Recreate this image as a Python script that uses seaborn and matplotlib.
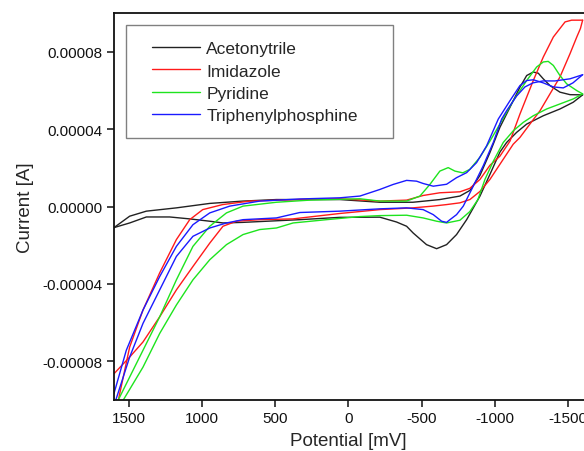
import numpy as np
import pandas as pd
import matplotlib
matplotlib.use('Agg')
import matplotlib.pyplot as plt
from matplotlib.patches import Rectangle
from matplotlib.ticker import FormatStrFormatter
import seaborn as sns

# cyclic voltammograms, potential in mV, current in 1e-5 A
solvents = ['Acetonytrile', 'Imidazole', 'Pyridine', 'Triphenylphosphine']
colors = ['#222222', '#ff1a1a', '#1ee41e', '#1a1aff']

acn_fwd_mv = [1600, 1493, 1379, 1174, 946, 721, 491, 58, -215, -441, -625, -762, -830, -899, -967,
              -1035, -1104, -1172, -1218, -1263, -1297, -1331, -1377, -1445, -1514, -1600]
acn_fwd_i = [-1.09, -0.50, -0.24, -0.07, 0.16, 0.28, 0.36, 0.36, 0.22, 0.22, 0.36, 0.54, 0.83, 1.61, 2.79,
             4.09, 5.13, 6.17, 6.77, 6.95, 6.89, 6.60, 6.25, 5.91, 5.78, 5.77]
acn_rev_mv = [-1600, -1536, -1445, -1331, -1218, -1149, -1081, -1035, -967, -899, -808, -739, -671, -603,
              -534, -443, -398, -329, -215, 58, 331, 721, 856, 946, 1083, 1220, 1379, 1493, 1600]
acn_rev_i = [5.77, 5.39, 5.04, 4.69, 4.26, 3.83, 3.31, 2.81, 1.66, 0.54, -0.68, -1.45, -1.97, -2.18,
             -1.97, -1.37, -1.02, -0.80, -0.55, -0.56, -0.68, -0.82, -0.85, -0.76, -0.64, -0.54, -0.54, -0.85, -1.09]

imi_fwd_mv = [1600, 1493, 1402, 1288, 1174, 1083, 994, 858, 673, 331, 58, -215, -398, -511, -625, -762,
              -830, -899, -967, -1035, -1104, -1172, -1263, -1331, -1400, -1480, -1525, -1600]
imi_fwd_i = [-11.06, -7.26, -5.35, -3.43, -1.71, -0.68, -0.16, 0.10, 0.28, 0.36, 0.40, 0.28, 0.33, 0.57, 0.71, 0.76,
             0.94, 1.40, 2.13, 2.60, 3.38, 4.78, 6.51, 7.72, 8.76, 9.54, 9.63, 9.63]
imi_rev_mv = [-1600, -1585, -1560, -1514, -1445, -1377, -1309, -1240, -1172, -1126, -1035, -967, -899, -830,
              -762, -671, -577, -441, -215, 58, 379, 605, 764, 856, 946, 1061, 1174, 1288, 1402, 1493, 1600]
imi_rev_i = [9.63, 9.20, 8.76, 7.90, 6.69, 5.82, 4.95, 4.26, 3.57, 3.22, 2.18, 1.40, 0.78, 0.36,
             0.19, 0.10, 0.02, -0.07, -0.16, -0.36, -0.64, -0.68, -0.76, -1.02, -1.89, -3.10, -4.31, -5.70, -7.00, -7.78, -8.64]

pyr_fwd_mv = [1600, 1573, 1402, 1288, 1174, 1061, 946, 832, 719, 491, 263, -79, -215, -398, -489, -557,
              -625, -682, -728, -782, -830, -899, -967, -1035, -1126, -1218, -1286, -1331, -1365, -1400,
              -1445, -1491, -1560, -1600]
pyr_fwd_i = [-10.47, -10.03, -7.43, -5.70, -3.79, -2.06, -1.02, -0.33, 0.02, 0.22, 0.33, 0.40, 0.28, 0.28, 0.54, 1.14,
             1.83, 2.01, 1.83, 1.74, 1.92, 2.55, 3.38, 4.26, 5.47, 6.51, 7.21, 7.47, 7.50, 7.29,
             6.77, 6.34, 5.99, 5.82]
pyr_rev_mv = [-1600, -1536, -1445, -1354, -1263, -1195, -1126, -1058, -990, -933, -885, -830, -762, -671,
              -603, -511, -398, -215, -79, 149, 377, 491, 605, 719, 832, 946, 1061, 1174, 1288, 1402, 1539, 1600]
pyr_rev_i = [5.82, 5.56, 5.30, 5.04, 4.69, 4.35, 3.91, 3.31, 2.34, 1.40, 0.36, -0.26, -0.71, -0.85,
             -0.76, -0.59, -0.45, -0.47, -0.52, -0.68, -0.85, -1.11, -1.19, -1.45, -1.97, -2.75, -3.79, -5.09,
             -6.56, -8.30, -10.03, -10.83]

tpp_fwd_mv = [1600, 1516, 1402, 1288, 1174, 1061, 946, 810, 605, 331, 58, -79, -215, -306, -398, -466,
              -511, -580, -671, -739, -808, -876, -944, -1024, -1104, -1172, -1218, -1263, -1331, -1400,
              -1468, -1534, -1600]
tpp_fwd_i = [-9.66, -7.43, -5.35, -3.62, -2.06, -0.94, -0.33, 0.02, 0.28, 0.39, 0.45, 0.54, 0.88, 1.14, 1.35, 1.31,
             1.19, 1.05, 1.15, 1.49, 1.75, 2.27, 3.13, 4.52, 5.47, 6.25, 6.51, 6.55, 6.39, 6.18,
             6.13, 6.39, 6.81]
tpp_rev_mv = [-1600, -1514, -1411, -1329, -1261, -1206, -1149, -1081, -1047, -990, -921, -853, -785, -739,
              -694, -671, -637, -580, -511, -398, -215, 58, 331, 491, 719, 832, 946, 1061, 1174, 1288,
              1402, 1493, 1600]
tpp_rev_i = [6.81, 6.60, 6.49, 6.49, 6.39, 6.18, 5.71, 4.95, 4.52, 3.31, 2.10, 1.05, 0.02, -0.42,
             -0.68, -0.82, -0.76, -0.42, -0.16, -0.07, -0.12, -0.24, -0.31, -0.59, -0.68, -0.85, -1.11, -1.54,
             -2.58, -4.31, -6.04, -7.78, -10.29]

branches = [
    ('Acetonytrile', 'fwd', acn_fwd_mv, acn_fwd_i), ('Acetonytrile', 'rev', acn_rev_mv, acn_rev_i),
    ('Imidazole', 'fwd', imi_fwd_mv, imi_fwd_i), ('Imidazole', 'rev', imi_rev_mv, imi_rev_i),
    ('Pyridine', 'fwd', pyr_fwd_mv, pyr_fwd_i), ('Pyridine', 'rev', pyr_rev_mv, pyr_rev_i),
    ('Triphenylphosphine', 'fwd', tpp_fwd_mv, tpp_fwd_i), ('Triphenylphosphine', 'rev', tpp_rev_mv, tpp_rev_i),
]
frames = []
for name, scan, mv, cur in branches:
    frames.append(pd.DataFrame({'solvent': name, 'scan': scan, 'potential': mv,
                                'current': np.array(cur) * 1e-5}))
df = pd.concat(frames, ignore_index=True)

sns.set_style('ticks')
plt.rcParams['font.family'] = ['Liberation Sans', 'DejaVu Sans']
plt.rcParams['axes.unicode_minus'] = False

fig = plt.figure(figsize=(5.84, 4.52), dpi=100)
ax = fig.add_axes([0.1952, 0.1128, 0.815, 0.8562])

sns.lineplot(data=df, x='potential', y='current', hue='solvent', units='scan',
             estimator=None, sort=False, palette=dict(zip(solvents, colors)),
             hue_order=solvents, linewidth=1.0, ax=ax)

ax.set_xlim(1600, -1650)
ax.set_ylim(-0.0001, 0.0001)
ax.set_xticks([1500, 1000, 500, 0, -500, -1000, -1500])
ax.set_yticks([-0.00008, -0.00004, 0.0, 0.00004, 0.00008])
ax.yaxis.set_major_formatter(FormatStrFormatter('%.5f'))
ax.tick_params(direction='out', length=5, width=1.1, pad=3, labelsize=11, colors='#111111')
for s in ax.spines.values():
    s.set_linewidth(1.3)
    s.set_color('#111111')

ax.set_xlabel('Potential [mV]', fontsize=13.5)
ax.set_ylabel('Current [A]', fontsize=13.5, labelpad=6)
ax.xaxis.set_label_coords(0.4926, -0.083)

handles, labels = ax.get_legend_handles_labels()
ax.legend(handles, labels, loc='upper left', bbox_to_anchor=(0.0807, 0.927), frameon=False,
          fontsize=12.5, borderpad=0, borderaxespad=0, handlelength=2.75,
          handletextpad=0.35, labelspacing=0.40)
ax.add_patch(Rectangle((0.0248, 0.677), 0.561, 0.292, transform=ax.transAxes,
                       facecolor='white', edgecolor='#808080', linewidth=1.0, zorder=4))

fig.savefig('out.png', dpi=100)
